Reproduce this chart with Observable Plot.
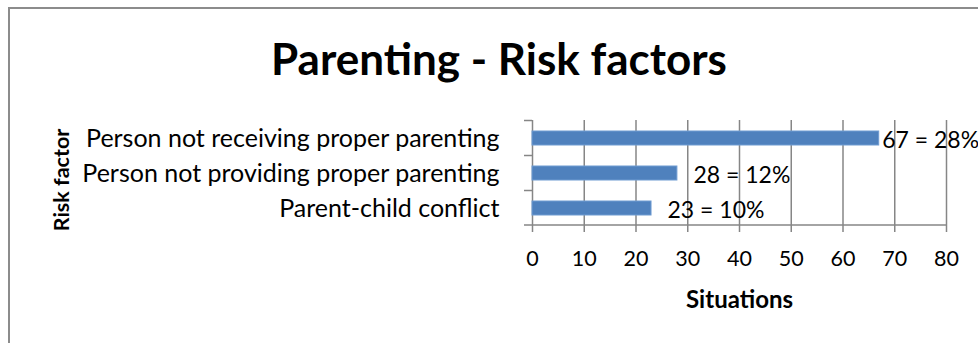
<!DOCTYPE html>
<html>
<head>
<meta charset="utf-8">
<script src="https://cdn.jsdelivr.net/npm/d3@7"></script>
<script src="https://cdn.jsdelivr.net/npm/@observablehq/plot@0.6"></script>
<style>
  html, body { margin: 0; padding: 0; background: #fff; overflow: hidden; }
  #wrap { position: relative; width: 978px; height: 343px; font-family: Lato, "Open Sans", sans-serif; }
  #border { position: absolute; left: 8px; top: 7px; width: 1000px; height: 400px; border-left: 2px solid #8c8c8c; border-top: 2px solid #8c8c8c; box-sizing: border-box; }
  #title { position: absolute; left: 0; width: 998px; top: 32px; text-align: center; font-weight: bold; font-size: 44px; line-height: 1.2; color: #000; }
  #chart { position: absolute; left: 0; top: 0; }
</style>
</head>
<body>
<div id="wrap">
  <div id="border"></div>
  <div id="title">Parenting - Risk factors</div>
  <div id="chart"></div>
</div>
<script>
const categories = ["Person not receiving proper parenting", "Person not providing proper parenting", "Parent-child conflict"];
const values = [67, 28, 23];
const valueLabels = ["67 = 28%", "28 = 12%", "23 = 10%"];
const xTicks = [0, 10, 20, 30, 40, 50, 60, 70, 80];
const xLabel = "Situations";
const yLabel = "Risk factor";

const data = categories.map((c, i) => ({category: c, value: values[i], label: valueLabels[i]}));
const gray = "#868686";
const font = "Lato, 'Open Sans', sans-serif";

const plot = Plot.plot({
  width: 978,
  height: 343,
  marginLeft: 532,
  marginRight: 32,
  marginTop: 120,
  marginBottom: 118,
  style: {fontFamily: font, fontSize: "20px", color: "#000", background: "transparent", overflow: "visible"},
  x: {domain: [0, 80], ticks: xTicks, label: null},
  y: {domain: categories, paddingInner: 0.61, paddingOuter: 0.305, label: null},
  marks: [
    Plot.ruleX(xTicks, {stroke: gray, strokeWidth: 1.5}),
    Plot.axisX({ticks: xTicks, tickSize: 7, tickPadding: 18, stroke: gray, strokeWidth: 1.5, fontSize: 21.5, fill: "#000", label: null}),
    Plot.axisY({tickSize: 0, tickPadding: 33, fontSize: 25, fill: "#000", label: null}),
    Plot.barX(data, {y: "category", x: "value", fill: "#4f81bd", stroke: "#6f9bd1", strokeWidth: 1}),
    Plot.text(data.slice(0, 1), {y: "category", x: "value", text: "label", textAnchor: "start", dx: 3, dy: 2, fontSize: 23}),
    Plot.text(data.slice(1), {y: "category", x: "value", text: "label", textAnchor: "start", dx: 16, dy: 2, fontSize: 23}),
    Plot.text([xLabel], {frameAnchor: "bottom", text: d => d, dy: 82, fontWeight: "bold", fontSize: 24}),
    Plot.text([yLabel], {frameAnchor: "left", text: d => d, rotate: -90, textAnchor: "middle", dx: -470, dy: 7, fontWeight: "bold", fontSize: 21.5})
  ]
});

document.getElementById("chart").appendChild(plot);

// x axis baseline and y-axis boundary ticks from Plot's scales
const xs = plot.scale("x");
const ys = plot.scale("y");
const svgSel = d3.select(plot);
const yBottom = ys.range[1];
const gap = (ys.step - ys.bandwidth) / 2;
const g = svgSel.append("g").attr("stroke", gray).attr("stroke-width", 1.5);
g.append("line").attr("x1", xs.apply(0)).attr("x2", xs.apply(80)).attr("y1", yBottom).attr("y2", yBottom);
const bounds = categories.map(c => ys.apply(c) - gap).concat([yBottom]);
bounds.forEach(b => g.append("line").attr("x1", xs.apply(0) - 8).attr("x2", xs.apply(0)).attr("y1", b).attr("y2", b));
</script>
</body>
</html>
